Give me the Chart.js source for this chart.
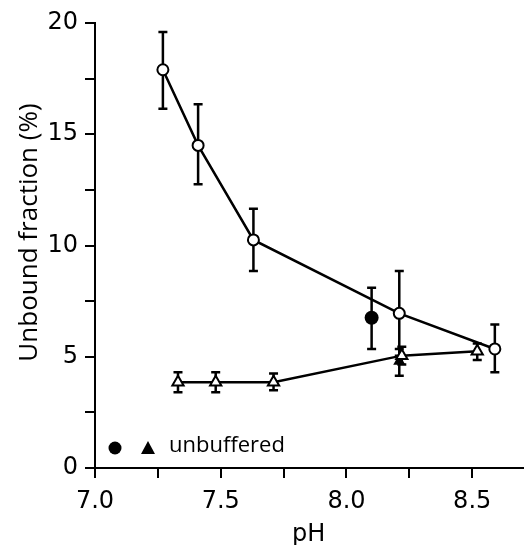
<!DOCTYPE html>
<html>
<head>
<meta charset="utf-8">
<script src="https://cdn.jsdelivr.net/npm/chart.js@4/dist/chart.umd.min.js"></script>
<style>
  html, body { margin: 0; padding: 0; background: #fff; }
  #wrap { width: 531px; height: 545px; }
</style>
</head>
<body>
<div id="wrap"><canvas id="phChart" width="531" height="545"></canvas></div>
<script>
// buffered (open circles)
const circPH = [7.27, 7.41, 7.63, 8.21, 8.59];
const circVal = [17.9, 14.5, 10.25, 6.95, 5.35];
const circLo = [16.15, 12.75, 8.85, 5.05, 4.3];
const circHi = [19.6, 16.35, 11.65, 8.85, 6.45];

// buffered (open triangles)
const triPH = [7.33, 7.48, 7.71, 8.22, 8.52];
const triVal = [3.85, 3.85, 3.85, 5.05, 5.25];
const triLo = [3.4, 3.4, 3.5, 4.65, 4.85];
const triHi = [4.3, 4.3, 4.25, 5.45, 5.6];

// unbuffered
const ubCircPH = [8.10];
const ubCircVal = [6.75];
const ubCircLo = [5.35];
const ubCircHi = [8.1];
const ubTriPH = [8.21];
const ubTriVal = [4.8];
const ubTriLo = [4.15];
const ubTriHi = [5.35];

const xTicks = [7.0, 7.5, 8.0, 8.5];
const yTicks = [0, 5, 10, 15, 20];
const yTitle = 'Unbound fraction (%)';

function pts(xs, ys) {
    return xs.map((x, i) => ({ x: x, y: ys[i] }));
}

// error bars drawn through the chart scales, under the markers
const errorBars = {
    id: 'errorBars',
    beforeDatasetsDraw(chart) {
        const ctx = chart.ctx;
        const xs = chart.scales.x, ys = chart.scales.y;
        ctx.save();
        ctx.strokeStyle = '#000';
        ctx.lineWidth = 2.5;
        chart.data.datasets.forEach(ds => {
            ds.data.forEach((p, i) => {
                const px = xs.getPixelForValue(p.x);
                const top = ys.getPixelForValue(ds.hi[i]);
                const bot = ys.getPixelForValue(ds.lo[i]);
                ctx.beginPath();
                ctx.moveTo(px, top); ctx.lineTo(px, bot);
                ctx.moveTo(px - 4.5, top); ctx.lineTo(px + 4.5, top);
                ctx.moveTo(px - 4.5, bot); ctx.lineTo(px + 4.5, bot);
                ctx.stroke();
            });
        });
        ctx.restore();
    }
};

// key in the lower left corner + the y title (sits a bit above centre)
const keyNote = {
    id: 'keyNote',
    afterDraw(chart) {
        const ctx = chart.ctx;
        const a = chart.chartArea;
        const y = a.bottom - 20;
        ctx.save();
        ctx.fillStyle = '#000';
        ctx.beginPath();
        ctx.arc(a.left + 20, y, 6.5, 0, Math.PI * 2);
        ctx.fill();
        ctx.beginPath();
        ctx.moveTo(a.left + 53, y - 7);
        ctx.lineTo(a.left + 60, y + 6);
        ctx.lineTo(a.left + 46, y + 6);
        ctx.closePath();
        ctx.fill();
        ctx.font = '22px "Open Sans"';
        ctx.textBaseline = 'middle';
        ctx.fillText('unbuffered', a.left + 74, y - 2);

        ctx.translate(30, (a.top + a.bottom) / 2 - 13);
        ctx.rotate(-Math.PI / 2);
        ctx.textAlign = 'center';
        ctx.font = '26px "Open Sans"';
        ctx.fillText(yTitle, 0, 0);
        ctx.restore();
    }
};

const tickFont = { family: 'DejaVu Sans', size: 24 };

new Chart(document.getElementById('phChart'), {
    type: 'scatter',
    data: {
        datasets: [
            {
                data: pts(circPH, circVal), lo: circLo, hi: circHi,
                showLine: true, borderColor: '#000', borderWidth: 2.5,
                pointStyle: 'circle', pointRadius: 5.5, pointBorderWidth: 2,
                pointBackgroundColor: '#fff', pointBorderColor: '#000'
            },
            {
                data: pts(triPH, triVal), lo: triLo, hi: triHi,
                showLine: true, borderColor: '#000', borderWidth: 2.5,
                pointStyle: 'triangle', pointRadius: 6.5, pointBorderWidth: 2,
                pointBackgroundColor: '#fff', pointBorderColor: '#000'
            },
            {
                data: pts(ubCircPH, ubCircVal), lo: ubCircLo, hi: ubCircHi,
                pointStyle: 'circle', pointRadius: 7, pointBorderWidth: 0,
                pointBackgroundColor: '#000', pointBorderColor: '#000'
            },
            {
                data: pts(ubTriPH, ubTriVal), lo: ubTriLo, hi: ubTriHi,
                pointStyle: 'triangle', pointRadius: 7, pointBorderWidth: 0,
                pointBackgroundColor: '#000', pointBorderColor: '#000'
            }
        ]
    },
    options: {
        responsive: false,
        animation: false,
        layout: { padding: { top: 23, right: 1, left: 0, bottom: 0 } },
        plugins: { legend: { display: false }, tooltip: { enabled: false } },
        scales: {
            x: {
                type: 'linear', min: 7.0, max: 8.7,
                border: { color: '#000', width: 2 },
                grid: { drawOnChartArea: false, color: '#000', lineWidth: 2, tickLength: 10 },
                ticks: {
                    stepSize: 0.25, includeBounds: false, color: '#000', font: tickFont, padding: 9,
                    maxRotation: 0, autoSkip: false,
                    callback: v => xTicks.some(t => Math.abs(t - v) < 1e-6) ? v.toFixed(1) : ''
                },
                title: { display: true, text: 'pH', color: '#000', font: tickFont, padding: { top: 0, bottom: -4 } },
                afterFit: s => { s.height = 77; }
            },
            y: {
                type: 'linear', min: 0, max: 20,
                border: { color: '#000', width: 2 },
                grid: { drawOnChartArea: false, color: '#000', lineWidth: 2, tickLength: 10 },
                ticks: {
                    stepSize: 2.5, color: '#000', font: tickFont, padding: 7, autoSkip: false,
                    callback: v => yTicks.includes(v) ? String(v) : ''
                },
                afterFit: s => { s.width = 95; }
            }
        }
    },
    plugins: [errorBars, keyNote]
});
</script>
</body>
</html>
